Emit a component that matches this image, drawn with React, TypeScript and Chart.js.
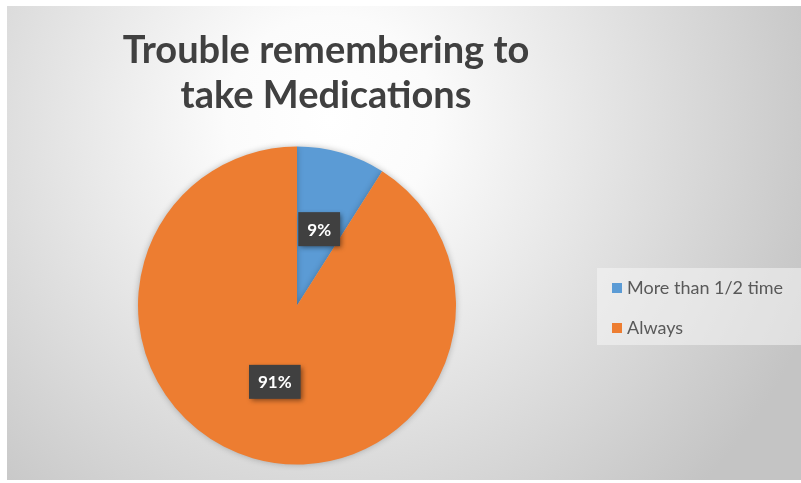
import React, { useEffect, useRef } from "react";
import { Chart, registerables } from "chart.js";

Chart.register(...registerables);

const TITLE_LINES = ["Trouble remembering to", "take Medications"];
const CATEGORIES = ["More than 1/2 time", "Always"];
const VALUES = [9, 91];
const LABELS = ["9%", "91%"];
const COLORS = ["#5B9BD5", "#ED7D31"];

const W = 801;
const H = 483;

const decorPlugin = {
  id: "decor",
  beforeDraw(chart: any) {
    const ctx = chart.ctx;
    ctx.save();
    ctx.fillStyle = "#ffffff";
    ctx.fillRect(0, 0, W, H);
    const g = ctx.createRadialGradient(330, 120, 0, 330, 120, 520);
    g.addColorStop(0, "#ffffff");
    g.addColorStop(0.2, "#fbfbfb");
    g.addColorStop(1, "#c4c4c4");
    ctx.fillStyle = g;
    ctx.fillRect(7, 6, W - 7, 474);

    // title
    ctx.fillStyle = "#404040";
    ctx.font = "bold 38px Lato";
    ctx.textAlign = "center";
    ctx.textBaseline = "alphabetic";
    TITLE_LINES.forEach((line, i) => {
      ctx.fillText(line, 326, 63 + i * 45);
    });

    // legend box
    ctx.fillStyle = "rgba(245,245,245,0.55)";
    ctx.fillRect(597, 268, W - 597, 77);
    ctx.font = "18px Lato";
    ctx.textAlign = "left";
    ctx.textBaseline = "middle";
    CATEGORIES.forEach((c, i) => {
      const y = 288 + i * 40;
      ctx.fillStyle = COLORS[i];
      ctx.fillRect(612, y - 5, 10, 10);
      ctx.fillStyle = "#595959";
      ctx.fillText(c, 627, y);
    });
    ctx.restore();
  },
  beforeDatasetsDraw(chart: any) {
    const ctx = chart.ctx;
    ctx.save();
    ctx.shadowColor = "rgba(0,0,0,0.25)";
    ctx.shadowBlur = 6;
  },
  afterDatasetsDraw(chart: any) {
    const ctx = chart.ctx;
    ctx.restore();
    const meta = chart.getDatasetMeta(0);
    ctx.save();
    ctx.font = "bold 17px Lato";
    ctx.textAlign = "center";
    ctx.textBaseline = "middle";
    meta.data.forEach((arc: any, i: number) => {
      const p = arc.getCenterPoint();
      const text = LABELS[i];
      const tw = ctx.measureText(text).width;
      const bw = tw + 18;
      const bh = 34;
      ctx.save();
      ctx.shadowColor = "rgba(0,0,0,0.45)";
      ctx.shadowBlur = 5;
      ctx.shadowOffsetX = 2;
      ctx.shadowOffsetY = 2;
      ctx.fillStyle = "#404040";
      ctx.fillRect(p.x - bw / 2, p.y - bh / 2, bw, bh);
      ctx.restore();
      ctx.fillStyle = "#ffffff";
      ctx.fillText(text, p.x, p.y + 1);
    });
    ctx.restore();
  },
};

export default function App() {
  const ref = useRef<HTMLCanvasElement | null>(null);
  useEffect(() => {
    if (!ref.current) return;
    const chart = new Chart(ref.current, {
      type: "pie",
      data: {
        labels: CATEGORIES,
        datasets: [
          {
            data: VALUES,
            backgroundColor: COLORS,
            borderWidth: 0,
            radius: 159,
          } as any,
        ],
      },
      options: {
        responsive: false,
        animation: false,
        layout: { padding: { left: 137, right: 344, top: 146, bottom: 18 } },
        plugins: {
          legend: { display: false },
          title: { display: false },
          tooltip: { enabled: false },
        },
      },
      plugins: [decorPlugin],
    });
    return () => chart.destroy();
  }, []);
  return (
    <div style={{ position: "absolute", left: 0, top: 0, width: W, height: H }}>
      <canvas ref={ref} width={W} height={H} style={{ width: W, height: H }} />
    </div>
  );
}
